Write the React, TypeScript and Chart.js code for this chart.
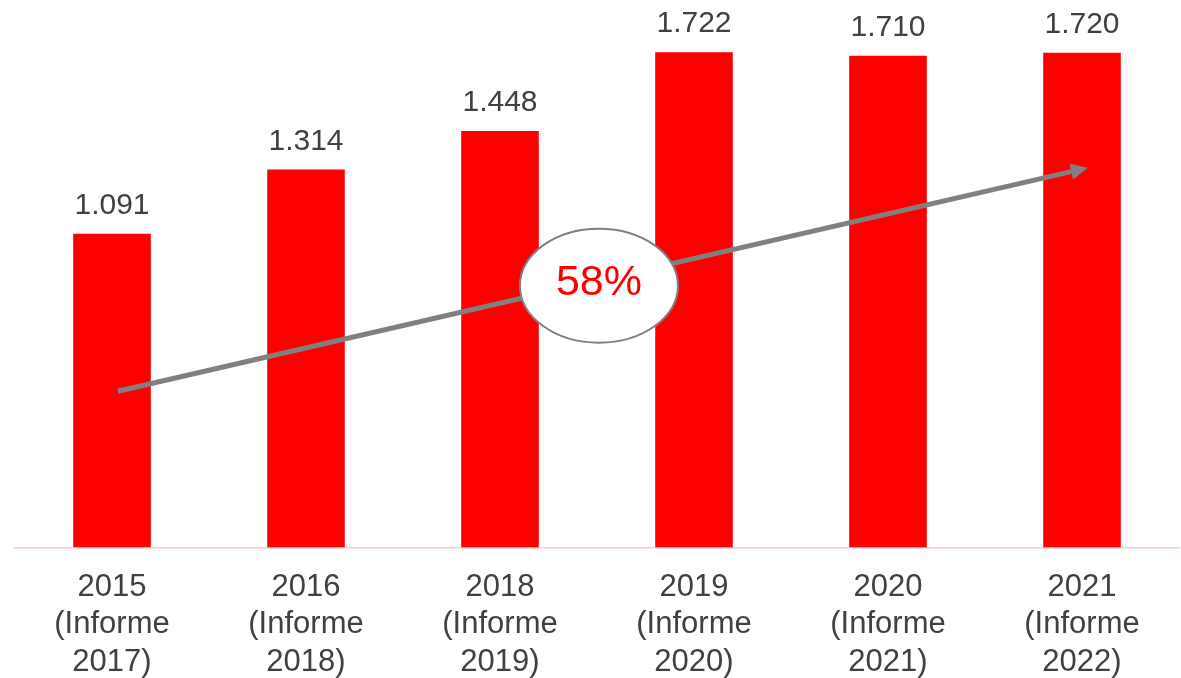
import React, { useEffect, useRef } from "react";
import { Chart, registerables } from "chart.js";

Chart.register(...registerables);

const categories: string[][] = [
  ["2015", "(Informe", "2017)"],
  ["2016", "(Informe", "2018)"],
  ["2018", "(Informe", "2019)"],
  ["2019", "(Informe", "2020)"],
  ["2020", "(Informe", "2021)"],
  ["2021", "(Informe", "2022)"],
];
const values: number[] = [1091, 1314, 1448, 1722, 1710, 1720];
const growthLabel = "58%";
// arrow annotation in data coordinates: [categoryIndex, value]
const arrowStart: [number, number] = [0.03, 543];
const arrowEnd: [number, number] = [5.03, 1320];
const bubbleCenter: [number, number] = [2.51, 910];

const fmt = (v: number) => v.toLocaleString("de-DE");

const overlayPlugin = {
  id: "overlay",
  afterDatasetsDraw(chart: any) {
    const ctx = chart.ctx;
    const xs = chart.scales.x;
    const ys = chart.scales.y;
    const meta = chart.getDatasetMeta(0);
    ctx.save();
    // value labels
    ctx.fillStyle = "#404040";
    ctx.font = "30px 'Liberation Sans', Arial, sans-serif";
    ctx.textAlign = "center";
    ctx.textBaseline = "middle";
    meta.data.forEach((bar: any, i: number) => {
      ctx.fillText(fmt(values[i]), bar.x, bar.y - 28);
    });
    // arrow
    const x0 = xs.getPixelForValue(arrowStart[0]);
    const y0 = ys.getPixelForValue(arrowStart[1]);
    const x1 = xs.getPixelForValue(arrowEnd[0]);
    const y1 = ys.getPixelForValue(arrowEnd[1]);
    const ang = Math.atan2(y1 - y0, x1 - x0);
    const headLen = 17;
    const headW = 8;
    const bx = x1 - headLen * Math.cos(ang);
    const by = y1 - headLen * Math.sin(ang);
    ctx.strokeStyle = "#808080";
    ctx.fillStyle = "#808080";
    ctx.lineWidth = 5;
    ctx.beginPath();
    ctx.moveTo(x0, y0);
    ctx.lineTo(bx, by);
    ctx.stroke();
    ctx.beginPath();
    ctx.moveTo(x1, y1);
    ctx.lineTo(bx + headW * Math.sin(ang), by - headW * Math.cos(ang));
    ctx.lineTo(bx - headW * Math.sin(ang), by + headW * Math.cos(ang));
    ctx.closePath();
    ctx.fill();
    // bubble
    const cx = xs.getPixelForValue(bubbleCenter[0]);
    const cy = ys.getPixelForValue(bubbleCenter[1]);
    ctx.beginPath();
    ctx.ellipse(cx, cy, 79, 57, 0, 0, Math.PI * 2);
    ctx.fillStyle = "#ffffff";
    ctx.fill();
    ctx.lineWidth = 2;
    ctx.strokeStyle = "#808080";
    ctx.stroke();
    ctx.fillStyle = "#ff0000";
    ctx.font = "43px 'Liberation Sans', Arial, sans-serif";
    ctx.fillText(growthLabel, cx, cy - 3);
    ctx.restore();
  },
};

const CANVAS_H = 702;

export default function App() {
  const ref = useRef<HTMLCanvasElement>(null);
  useEffect(() => {
    if (!ref.current) return;
    const chart = new Chart(ref.current, {
      type: "bar",
      data: {
        labels: categories,
        datasets: [
          {
            data: values,
            backgroundColor: "#ff0000",
            borderWidth: 0,
            categoryPercentage: 1,
            barPercentage: 0.4,
          },
        ],
      },
      options: {
        animation: false,
        responsive: false,
        maintainAspectRatio: false,
        layout: { padding: { left: 15, right: 2, top: 1, bottom: 0 } },
        plugins: { legend: { display: false }, tooltip: { enabled: false } },
        scales: {
          x: {
            grid: { display: false, drawTicks: false },
            border: { display: true, color: "#ffc8c8", width: 1.5 },
            ticks: {
              color: "#404040",
              padding: 21,
              maxRotation: 0,
              autoSkip: false,
              font: { family: "'Liberation Sans', Arial, sans-serif", size: 31, lineHeight: 1.21 },
            },
          },
          y: { display: false, min: 0, max: 1900 },
        },
      },
      plugins: [overlayPlugin],
    });
    return () => chart.destroy();
  }, []);
  return (
    <div style={{ position: "fixed", left: 0, top: 0, width: 1181, height: 678, background: "#fff", overflow: "hidden" }}>
      <canvas ref={ref} width={1181} height={CANVAS_H} style={{ width: 1181, height: CANVAS_H }} />
    </div>
  );
}
